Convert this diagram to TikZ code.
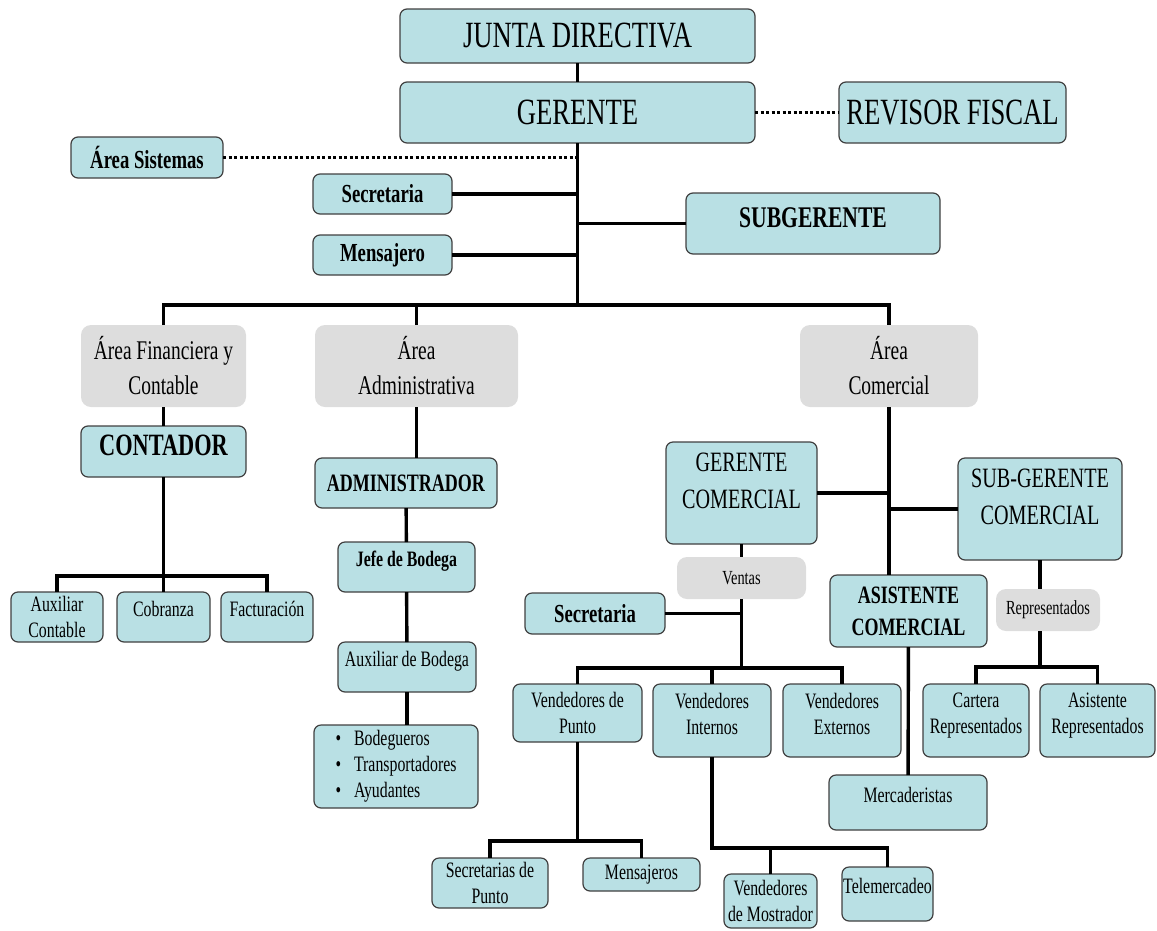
\documentclass[tikz,border=0pt]{standalone}
\usepackage{fontspec}
\setmainfont{Liberation Serif}[FakeStretch=0.72]
\definecolor{celeste}{RGB}{185,224,228}
\definecolor{gris}{RGB}{221,221,221}

\begin{document}
\begin{tikzpicture}[
        x=1pt, y=-1pt,
        box/.style={
            draw=black!75,
            fill=celeste,
            rounded corners=7pt,
            line width=1.2pt,
            inner sep=0pt,
            outer sep=0pt,
            align=center
        },
        area/.style={
            fill=gris,
            rounded corners=10pt,
            inner sep=0pt,
            outer sep=0pt,
            align=center
        },
        wh/.style 2 args={minimum width=#1pt, minimum height=#2pt},
        big/.style={font=\fontsize{37}{42}\selectfont},
        mid/.style={font=\fontsize{28}{37}\selectfont, text depth=24pt},
        arealbl/.style={font=\fontsize{27}{35}\selectfont},
        title/.style={font=\bfseries\fontsize{26}{32}\selectfont},
        small/.style={font=\fontsize{22}{26}\selectfont},
        up/.style={text depth=16pt},
        lift/.style={text depth=14pt},
        link/.style={line width=3.4pt},
        dotlink/.style={line width=2.6pt, dash pattern=on 3pt off 2.5pt}
    ]

    \useasboundingbox (0,0) rectangle (1157,930);

    \node[box, big, wh={355}{54}] (jd) at (577.5,36) {JUNTA DIRECTIVA};
    \node[box, big, wh={355}{61}] (ger) at (577.5,112.5) {GERENTE};
    \node[box, big, wh={227}{61}] (rf) at (952.5,112.5) {REVISOR FISCAL};
    \node[box, title, wh={152}{41}] (sis) at (147,157.5) {Área Sistemas};
    \node[box, title, wh={139}{40}] (sec) at (382.5,194) {Secretaria};
    \node[box, title, wh={139}{40}] (men) at (382.5,255) {Mensajero};
    \node[box, title, font=\bfseries\fontsize{30}{36}\selectfont, wh={254}{61}, text depth=12pt] (sub) at (813,223.5) {SUBGERENTE};

    \coordinate (bus) at (577.5,305);

    \node[area, arealbl, wh={165}{82}] (fin) at (163.5,366) {Área Financiera y\\Contable};
    \node[area, arealbl, wh={203}{82}] (adm) at (416.5,366) {Área\\Administrativa};
    \node[area, arealbl, wh={178}{82}] (com) at (889,366) {Área\\Comercial};

    \node[box, title, font=\bfseries\fontsize{31}{36}\selectfont, wh={165}{51}, text depth=12pt] (cont) at (163.5,451.5) {CONTADOR};
    \coordinate (cbus) at (163.5,576);
    \node[box, small, wh={92}{50}] (aux1) at (57,617) {Auxiliar\\Contable};
    \node[box, small, up, wh={93}{50}] (cob) at (163.5,617) {Cobranza};
    \node[box, small, up, wh={92}{50}] (fac) at (267,617) {Facturación};

    \node[box, title, font=\bfseries\fontsize{25}{30}\selectfont, wh={182}{50}] (admr) at (406,483) {ADMINISTRADOR};
    \node[box, small, up, font=\bfseries\fontsize{22}{26}\selectfont, wh={137}{50}] (jefe) at (406.5,567) {Jefe de Bodega};
    \node[box, small, up, wh={138}{50}] (auxb) at (407,667) {Auxiliar de Bodega};
    \node[box, small, wh={164}{83}] (bod) at (396,766.5)
        {\begin{tabular}{@{}l@{\hspace{13pt}}l@{}}
            \textbullet & Bodegueros\\
            \textbullet & Transportadores\\
            \textbullet & Ayudantes
        \end{tabular}};

    \node[box, mid, wh={151}{102}] (gcom) at (741.5,493) {GERENTE\\COMERCIAL};
    \node[box, mid, wh={164}{102}] (sgcom) at (1040,509) {SUB-GERENTE\\COMERCIAL};
    \node[box, title, font=\bfseries\fontsize{25}{32}\selectfont, wh={157}{72}] (asis) at (908.5,611) {ASISTENTE\\COMERCIAL};
    \node[area, small, font=\fontsize{20}{24}\selectfont, wh={129}{42}] (ven) at (741.5,578) {Ventas};
    \node[box, title, wh={140}{41}] (sec2) at (595,613.5) {Secretaria};
    \node[area, small, font=\fontsize{20}{24}\selectfont, wh={104}{42}] (rep) at (1048,610) {Representados};

    \coordinate (vbus) at (741.5,668);
    \coordinate (rbus) at (1040,667);
    \node[box, small, wh={129}{58}] (vp) at (577.5,713) {Vendedores de\\Punto};
    \node[box, small, lift, wh={118}{73}] (vint) at (712,720.5) {Vendedores\\Internos};
    \node[box, small, lift, wh={118}{73}] (vext) at (842,720.5) {Vendedores\\Externos};
    \node[box, small, lift, wh={106}{73}] (cart) at (976,720.5) {Cartera\\Representados};
    \node[box, small, lift, wh={115}{73}] (asrep) at (1097.5,720.5) {Asistente\\Representados};
    \node[box, small, up, wh={158}{55}] (merc) at (908,802.5) {Mercaderistas};

    \coordinate (pbus) at (577.5,841);
    \coordinate (ibus) at (712,848);
    \node[box, small, wh={116}{50}] (secp) at (490,883) {Secretarias de\\Punto};
    \node[box, small, wh={117}{33}] (mens) at (641.5,874.5) {Mensajeros};
    \node[box, small, wh={93}{54}] (vmos) at (770.5,901) {Vendedores\\de Mostrador};
    \node[box, small, up, wh={91}{54}] (tel) at (887.5,894) {Telemercadeo};

    \draw[link] (jd) -- (ger);
    \draw[dotlink] (ger) -- (rf);
    \draw[dotlink] (sis) -- (sis -| ger);
    \draw[link] (ger) -- (bus);
    \draw[link] (sec) -- (sec -| ger);
    \draw[link] (men) -- (men -| ger);
    \draw[link] (sub) -- (sub -| ger);
    \draw[link] (fin) |- (bus) -| (com);
    \draw[link] (adm) -- (adm |- bus);

    \draw[link] (fin) -- (cont);
    \draw[link] (cont) -- (cbus);
    \draw[link] (aux1) |- (cbus) -| (fac);
    \draw[link] (cob) -- (cbus);

    \draw[link] (adm) -- (adm |- admr.north);
    \draw[link] (admr) -- (jefe);
    \draw[link] (jefe) -- (auxb);
    \draw[link] (auxb) -- (auxb |- bod.north);

    \draw[link] (com) -- (com |- asis.north);
    \draw[link] (gcom) -- (gcom -| com);
    \draw[link] (sgcom) -- (sgcom -| com);
    \draw[link] (gcom) -- (ven);
    \draw[link] (ven) -- (vbus);
    \draw[link] (sec2) -- (sec2 -| ven);
    \draw[link] (vp) |- (vbus) -| (vext);
    \draw[link] (vint) -- (vint |- vbus);
    \draw[link] (vp) -- (pbus);
    \draw[link] (secp) |- (pbus) -| (mens);
    \draw[link] (vint) -- (ibus) -| (tel);
    \draw[link] (vmos) -- (vmos |- ibus);
    \draw[link] (asis) -- (merc);
    \draw[link] (sgcom) -- (sgcom |- rep.north);
    \draw[link] (sgcom |- rep.south) -- (rbus);
    \draw[link] (cart) |- (rbus) -| (asrep);

    \end{tikzpicture}
\end{document}
